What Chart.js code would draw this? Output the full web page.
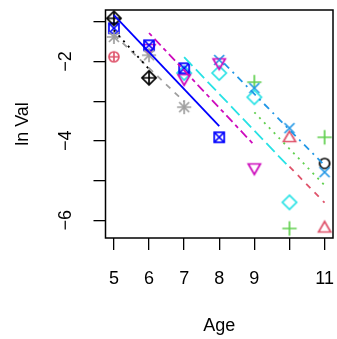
<!DOCTYPE html>
<html>
<head>
<meta charset="utf-8">
<script src="https://cdn.jsdelivr.net/npm/chart.js@4.4.1/dist/chart.umd.min.js"></script>
<style>
  html, body { margin: 0; padding: 0; background: #fff; }
</style>
</head>
<body>
<canvas id="chart" width="337" height="339"></canvas>
<script>
// Edades y ln(valor) por clase anual
const pointAges = [
    [11], [10, 11], [9, 10, 11], [8, 9, 10, 11], [7, 8, 9, 10],
    [6, 7, 8, 9], [5, 6, 7, 8], [5, 6, 7], [5, 6], [5]
];
const pointVals = [
    [-4.57],
    [-3.93, -6.21],
    [-2.52, -6.21, -3.91],
    [-1.96, -2.67, -3.68, -4.79],
    [-2.29, -2.29, -2.90, -5.55],
    [-1.66, -2.42, -2.02, -4.67],
    [-1.16, -1.59, -2.17, -3.91],
    [-1.38, -1.84, -3.15],
    [-0.91, -2.41],
    [-1.88]
];

// Rectas ajustadas: edad inicial/final y valor
const lineAges = [null, [10, 11], [9, 11], [8, 11], [7, 10], [6, 9], [5, 8], [5, 7], [5, 6], null];
const lineVals = [null, [-4.65, -5.56], [-3.28, -5.12], [-1.92, -4.62], [-1.89, -4.67],
                  [-1.28, -4.11], [-0.83, -3.63], [-1.32, -3.01], [-1.21, -2.19], null];

// Ejes
const xTicks = [5, 6, 7, 8, 9, 10, 11];
const xLabels = ['5', '6', '7', '8', '9', '', '11'];
const yTicks = [-1, -2, -3, -4, -5, -6];
const yLabels = ['', '\u22122', '', '\u22124', '', '\u22126'];

// Estilos (colores, simbolos pch, tipos de linea)
const colors = ['#000000', '#DF536B', '#61D04F', '#2297E6', '#28E2E5',
                '#CD0BBC', '#0000FF', '#9E9E9E', '#000000', '#DF536B'];
const pchs = [1, 2, 3, 4, 5, 6, 7, 8, 9, 10];
const dashes = [[], [6, 6], [2, 5], [2, 5, 7, 5], [12, 5], [4, 4, 9, 4], [], [6, 6], [2, 5], []];

const FONT = { family: '"Liberation Sans", Arial, sans-serif', size: 18 };

// Dibuja un simbolo tipo R en un canvas pequeño
function makeSymbol(pch, color) {
    const S = 20, c = 10;
    const cv = document.createElement('canvas');
    cv.width = S; cv.height = S;
    const g = cv.getContext('2d');
    g.strokeStyle = color;
    g.lineWidth = 1.7;
    const circle = r => { g.beginPath(); g.arc(c, c, r, 0, 2 * Math.PI); g.stroke(); };
    const plus = a => { g.beginPath(); g.moveTo(c - a, c); g.lineTo(c + a, c); g.moveTo(c, c - a); g.lineTo(c, c + a); g.stroke(); };
    const cross = a => { g.beginPath(); g.moveTo(c - a, c - a); g.lineTo(c + a, c + a); g.moveTo(c - a, c + a); g.lineTo(c + a, c - a); g.stroke(); };
    const diamond = a => { g.beginPath(); g.moveTo(c, c - a); g.lineTo(c + a, c); g.lineTo(c, c + a); g.lineTo(c - a, c); g.closePath(); g.stroke(); };
    const tri = (r, dir) => {
        g.beginPath();
        g.moveTo(c, c - dir * r);
        g.lineTo(c + r * 0.866, c + dir * r * 0.5);
        g.lineTo(c - r * 0.866, c + dir * r * 0.5);
        g.closePath(); g.stroke();
    };
    switch (pch) {
        case 1: circle(5); break;
        case 2: tri(7, 1); break;
        case 3: plus(7.2); break;
        case 4: cross(5); break;
        case 5: diamond(7.1); break;
        case 6: tri(7, -1); break;
        case 7: g.strokeRect(c - 5, c - 5, 10, 10); cross(5); break;
        case 8: plus(7.1); cross(5); break;
        case 9: diamond(7.1); plus(7.1); break;
        case 10: circle(5); plus(5); break;
    }
    return cv;
}

const datasets = [];
for (let i = 0; i < pointAges.length; i++) {
    datasets.push({
        data: pointAges[i].map((a, j) => ({ x: a, y: pointVals[i][j] })),
        pointStyle: makeSymbol(pchs[i], colors[i]),
        pointRadius: 10,
        showLine: false,
        order: 100 - i
    });
    if (lineAges[i]) {
        datasets.push({
            data: lineAges[i].map((a, j) => ({ x: a, y: lineVals[i][j] })),
            showLine: true,
            pointRadius: 0,
            borderColor: colors[i],
            borderWidth: 1.8,
            borderDash: dashes[i],
            order: 50 - i
        });
    }
}

// Marco y etiquetas del eje y (giradas como en R)
const framePlugin = {
    id: 'frame',
    afterDraw(chart) {
        const { ctx, chartArea: a, scales: { y } } = chart;
        ctx.save();
        ctx.strokeStyle = '#000';
        ctx.lineWidth = 1.5;
        ctx.strokeRect(a.left, a.top, a.right - a.left, a.bottom - a.top);
        ctx.font = FONT.size + 'px ' + FONT.family;
        ctx.fillStyle = '#000';
        ctx.textAlign = 'center';
        ctx.textBaseline = 'middle';
        yTicks.forEach((v, i) => {
            if (!yLabels[i]) return;
            ctx.save();
            ctx.translate(66, y.getPixelForValue(v));
            ctx.rotate(-Math.PI / 2);
            ctx.fillText(yLabels[i], 0, 0);
            ctx.restore();
        });
        ctx.restore();
    }
};

new Chart(document.getElementById('chart'), {
    type: 'scatter',
    data: { datasets: datasets },
    options: {
        responsive: false,
        animation: false,
        devicePixelRatio: 1,
        layout: { autoPadding: false, padding: { left: 0, right: 0, top: 10, bottom: 0 } },
        plugins: { legend: { display: false }, tooltip: { enabled: false } },
        scales: {
            x: {
                type: 'linear',
                min: 4.76,
                max: 11.24,
                afterBuildTicks: s => { s.ticks = xTicks.map(v => ({ value: v })); },
                afterFit: s => { s.height = 101; s.paddingLeft = 0; s.paddingRight = 4; },
                ticks: {
                    callback: v => xLabels[xTicks.indexOf(v)],
                    font: FONT, color: '#000', padding: 18,
                    maxRotation: 0, autoSkip: false
                },
                grid: { drawOnChartArea: false, drawTicks: true, tickLength: 12, color: '#000', lineWidth: 1.3 },
                border: { display: false },
                title: { display: true, text: 'Age', font: FONT, color: '#000', padding: { top: 0, bottom: 2.5 } }
            },
            y: {
                type: 'linear',
                min: -6.45,
                max: -0.70,
                afterBuildTicks: s => { s.ticks = yTicks.map(v => ({ value: v })); },
                afterFit: s => { s.width = 105.5; s.paddingTop = 0; s.paddingBottom = 0; },
                ticks: { display: false },
                grid: { drawOnChartArea: false, drawTicks: true, tickLength: 12, color: '#000', lineWidth: 1.3 },
                border: { display: false },
                title: { display: true, text: 'ln Val', font: FONT, color: '#000', padding: { top: 12, bottom: 0 } }
            }
        }
    },
    plugins: [framePlugin]
});
</script>
</body>
</html>
